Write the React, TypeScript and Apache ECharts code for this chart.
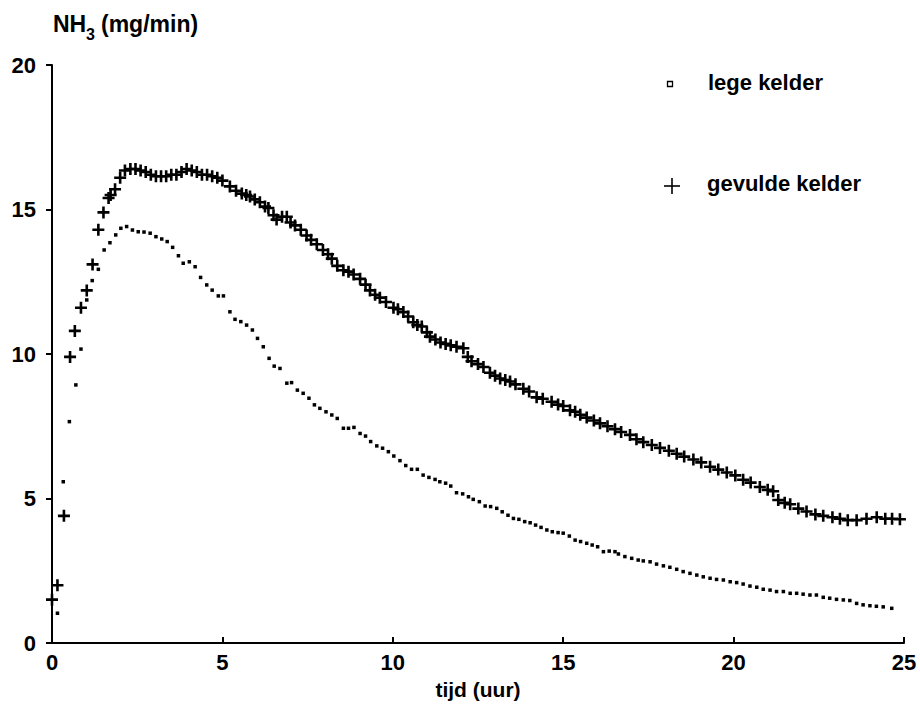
import React, { useEffect, useRef } from "react";
import * as echarts from "echarts";

// Time (hours) and NH3 emission (mg/min) — filled cellar ("gevulde kelder")
const gevuldeTijd = [
  0.0, 0.16, 0.35, 0.53, 0.67, 0.85, 1.02, 1.19, 1.36, 1.51, 1.66, 1.72, 1.85, 2.0, 2.14, 2.3, 2.45, 2.6, 2.75, 2.9,
  3.05, 3.2, 3.35, 3.5, 3.65, 3.8, 3.95, 4.1, 4.25, 4.4, 4.55, 4.7, 4.85, 5.0, 5.22, 5.4, 5.57, 5.7, 5.81, 5.95,
  6.1, 6.25, 6.35, 6.5, 6.59, 6.75, 6.89, 7.0, 7.13, 7.3, 7.47, 7.6, 7.77, 7.95, 8.1, 8.21, 8.37, 8.55, 8.7, 8.85,
  9.04, 9.2, 9.33, 9.48, 9.62, 9.8, 10.02, 10.15, 10.31, 10.45, 10.6, 10.72, 10.85, 11.0, 11.09, 11.25, 11.4, 11.55, 11.7, 11.87,
  12.07, 12.2, 12.31, 12.5, 12.66, 12.85, 13.0, 13.15, 13.3, 13.44, 13.6, 13.83, 14.0, 14.22, 14.4, 14.66, 14.85, 15.0, 15.2, 15.35,
  15.5, 15.69, 15.9, 16.08, 16.3, 16.52, 16.7, 16.96, 17.15, 17.35, 17.6, 17.84, 18.1, 18.33, 18.55, 18.82, 19.05, 19.31, 19.55, 19.8,
  20.05, 20.28, 20.5, 20.77, 21.0, 21.16, 21.31, 21.5, 21.66, 21.9, 22.14, 22.4, 22.63, 22.9, 23.12, 23.35, 23.61, 23.9, 24.2, 24.45,
  24.65, 24.88,
];
const gevuldeNH3 = [
  1.5, 2.0, 4.4, 9.9, 10.8, 11.6, 12.2, 13.1, 14.3, 14.9, 15.4, 15.5, 15.7, 16.1, 16.35, 16.4, 16.4, 16.35, 16.3, 16.2,
  16.15, 16.15, 16.15, 16.2, 16.2, 16.3, 16.4, 16.35, 16.3, 16.2, 16.2, 16.15, 16.1, 16.0, 15.8, 15.65, 15.55, 15.5, 15.45, 15.35,
  15.25, 15.1, 15.05, 14.8, 14.65, 14.75, 14.75, 14.55, 14.45, 14.3, 14.1, 13.95, 13.8, 13.6, 13.45, 13.3, 13.05, 12.9, 12.85, 12.75,
  12.6, 12.4, 12.2, 12.05, 11.95, 11.8, 11.6, 11.55, 11.45, 11.3, 11.1, 11.0, 10.95, 10.75, 10.6, 10.5, 10.4, 10.35, 10.3, 10.25,
  10.2, 9.9, 9.75, 9.65, 9.55, 9.35, 9.25, 9.15, 9.1, 9.05, 8.95, 8.8, 8.7, 8.5, 8.45, 8.35, 8.25, 8.2, 8.05, 8.0,
  7.9, 7.8, 7.7, 7.6, 7.5, 7.4, 7.3, 7.2, 7.05, 6.95, 6.85, 6.75, 6.65, 6.55, 6.45, 6.35, 6.25, 6.1, 6.0, 5.9,
  5.8, 5.65, 5.55, 5.4, 5.3, 5.25, 4.95, 4.85, 4.8, 4.65, 4.55, 4.45, 4.4, 4.35, 4.3, 4.25, 4.25, 4.3, 4.35, 4.3,
  4.3, 4.28,
];

// Time (hours) and NH3 emission (mg/min) — empty cellar ("lege kelder")
const legeTijd = [
  0.16, 0.33, 0.51, 0.7, 0.85, 1.02, 1.18, 1.36, 1.53, 1.7, 1.87, 2.02, 2.19, 2.36, 2.53, 2.7, 2.88, 3.05, 3.22, 3.38,
  3.54, 3.71, 3.85, 4.03, 4.2, 4.36, 4.54, 4.7, 4.88, 5.03, 5.22, 5.37, 5.54, 5.71, 5.88, 6.03, 6.2, 6.37, 6.52, 6.69,
  6.89, 7.03, 7.2, 7.37, 7.54, 7.7, 7.86, 8.04, 8.21, 8.37, 8.55, 8.7, 8.86, 9.04, 9.2, 9.35, 9.53, 9.7, 9.87, 10.03,
  10.21, 10.38, 10.55, 10.72, 10.89, 11.06, 11.24, 11.38, 11.55, 11.7, 11.87, 12.05, 12.22, 12.36, 12.54, 12.71, 12.87, 13.05, 13.21, 13.38,
  13.54, 13.7, 13.87, 14.03, 14.19, 14.35, 14.52, 14.68, 14.85, 15.0, 15.18, 15.35, 15.51, 15.69, 15.85, 16.01, 16.18, 16.35, 16.52, 16.62,
  16.81, 17.01, 17.2, 17.35, 17.55, 17.74, 17.94, 18.13, 18.33, 18.52, 18.72, 18.92, 19.11, 19.31, 19.5, 19.7, 19.9, 20.09, 20.28, 20.48,
  20.68, 20.87, 21.07, 21.26, 21.46, 21.66, 21.85, 22.04, 22.24, 22.43, 22.63, 22.82, 23.02, 23.22, 23.41, 23.61, 23.8, 24.0, 24.19, 24.39,
  24.64,
];
const legeNH3 = [
  1.03, 5.58, 7.66, 8.93, 10.17, 11.87, 12.54, 12.93, 13.6, 13.85, 14.12, 14.35, 14.41, 14.29, 14.23, 14.22, 14.18, 14.06, 13.98, 13.89,
  13.69, 13.4, 13.14, 13.19, 13.02, 12.65, 12.39, 12.21, 12.01, 12.01, 11.46, 11.2, 11.12, 11.0, 10.83, 10.54, 10.25, 9.85, 9.58, 9.5,
  8.99, 9.01, 8.75, 8.64, 8.47, 8.24, 8.12, 8.0, 7.89, 7.77, 7.43, 7.43, 7.46, 7.25, 7.16, 6.97, 6.82, 6.74, 6.62, 6.47,
  6.31, 6.14, 6.01, 6.01, 5.81, 5.73, 5.66, 5.58, 5.53, 5.43, 5.2, 5.16, 5.06, 4.97, 4.89, 4.74, 4.72, 4.66, 4.54, 4.42,
  4.31, 4.28, 4.2, 4.16, 4.08, 4.0, 3.91, 3.85, 3.82, 3.8, 3.7, 3.56, 3.51, 3.45, 3.39, 3.33, 3.16, 3.18, 3.16, 3.08,
  2.99, 2.93, 2.87, 2.84, 2.81, 2.73, 2.67, 2.62, 2.55, 2.47, 2.41, 2.35, 2.29, 2.24, 2.2, 2.18, 2.12, 2.09, 2.04, 1.97,
  1.93, 1.86, 1.83, 1.78, 1.78, 1.72, 1.72, 1.69, 1.66, 1.66, 1.58, 1.55, 1.51, 1.49, 1.47, 1.37, 1.32, 1.29, 1.27, 1.25,
  1.2,
];

const xTicks = { min: 0, max: 25, interval: 5 };
const yTicks = { min: 0, max: 20, interval: 5 };

const FONT = "'Liberation Sans', Arial, Helvetica, sans-serif";
const PLUS = "path://M0,5L10,5M5,0L5,10";

export default function App() {
  const ref = useRef<HTMLDivElement>(null);

  useEffect(() => {
    if (!ref.current) return;
    const chart = echarts.init(ref.current, null, { renderer: "svg" });

    const gevulde = gevuldeTijd.map((t, i) => [t, gevuldeNH3[i]]);
    const lege = legeTijd.map((t, i) => [t, legeNH3[i]]);

    chart.setOption({
      animation: false,
      backgroundColor: "#ffffff",
      grid: { left: 52, right: 16, top: 65, bottom: 71, containLabel: false },
      xAxis: {
        type: "value",
        min: xTicks.min,
        max: xTicks.max,
        interval: xTicks.interval,
        name: "tijd (uur)",
        nameLocation: "middle",
        nameGap: 36,
        nameTextStyle: { color: "#000", fontFamily: FONT, fontWeight: "bold", fontSize: 21 },
        axisLine: { show: true, lineStyle: { color: "#000", width: 2 } },
        axisTick: { show: true, inside: true, length: 6, lineStyle: { color: "#000", width: 2 } },
        axisLabel: { color: "#000", fontFamily: FONT, fontWeight: "bold", fontSize: 22, margin: 8 },
        splitLine: { show: false },
      },
      yAxis: {
        type: "value",
        min: yTicks.min,
        max: yTicks.max,
        interval: yTicks.interval,
        axisLine: { show: true, lineStyle: { color: "#000", width: 2 } },
        axisTick: { show: true, inside: false, length: 6, lineStyle: { color: "#000", width: 2 } },
        axisLabel: { color: "#000", fontFamily: FONT, fontWeight: "bold", fontSize: 22, margin: 16 },
        splitLine: { show: false },
      },
      series: [
        {
          name: "lege kelder",
          type: "scatter",
          data: lege,
          symbol: "rect",
          symbolSize: 3.5,
          itemStyle: { color: "#000", opacity: 1 },
          z: 2,
        },
        {
          name: "gevulde kelder",
          type: "scatter",
          data: gevulde,
          symbol: PLUS,
          symbolSize: 12,
          itemStyle: { color: "transparent", borderColor: "#000", borderWidth: 2.6, opacity: 1 },
          z: 3,
        },
      ],
      graphic: [
        // axis title with subscript
        {
          type: "text",
          left: 53,
          top: 12,
          style: { text: "NH", fill: "#000", font: `bold 23px ${FONT}` },
        },
        {
          type: "text",
          left: 86,
          top: 26,
          style: { text: "3", fill: "#000", font: `bold 16px ${FONT}` },
        },
        {
          type: "text",
          left: 101,
          top: 12,
          style: { text: "(mg/min)", fill: "#000", font: `bold 23px ${FONT}` },
        },
        // legend: empty cellar
        {
          type: "rect",
          shape: { x: 667.5, y: 81.5, width: 5, height: 5 },
          style: { fill: "#fff", stroke: "#000", lineWidth: 1.3 },
        },
        {
          type: "text",
          left: 708,
          top: 71,
          style: { text: "lege kelder", fill: "#000", font: `bold 22px ${FONT}` },
        },
        // legend: filled cellar
        {
          type: "line",
          shape: { x1: 664, y1: 186, x2: 680, y2: 186 },
          style: { stroke: "#000", lineWidth: 1.6 },
        },
        {
          type: "line",
          shape: { x1: 672, y1: 178, x2: 672, y2: 194 },
          style: { stroke: "#000", lineWidth: 1.6 },
        },
        {
          type: "text",
          left: 707,
          top: 172,
          style: { text: "gevulde kelder", fill: "#000", font: `bold 22px ${FONT}` },
        },
      ],
    });

    return () => chart.dispose();
  }, []);

  return <div ref={ref} style={{ position: "fixed", left: 0, top: 0, width: 920, height: 714 }} />;
}
